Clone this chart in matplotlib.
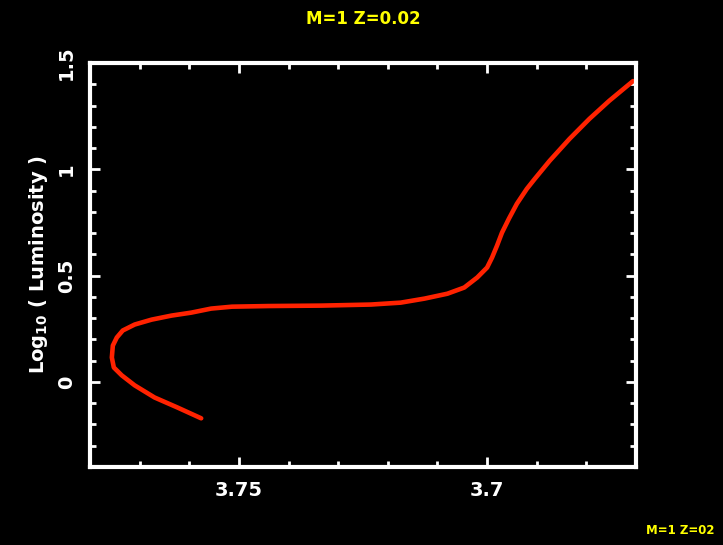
import matplotlib
matplotlib.use("Agg")
import matplotlib.pyplot as plt
from matplotlib.ticker import MultipleLocator, FixedLocator

# Evolutionary track of a 1 solar-mass star, Z = 0.02
log_teff = [3.7576, 3.7624, 3.7670, 3.7710, 3.7736, 3.7752, 3.7756, 3.7754,
            3.7746, 3.7734, 3.7710, 3.7676, 3.7636, 3.7596, 3.7556, 3.7514,
            3.7440, 3.7334, 3.7234, 3.7174, 3.7126, 3.7080, 3.7046, 3.7020,
            3.7000, 3.6990, 3.6980, 3.6970, 3.6956, 3.6940, 3.6920, 3.6904,
            3.6874, 3.6834, 3.6794, 3.6754, 3.6706]
log_lum = [-0.171, -0.120, -0.073, -0.016, 0.031, 0.068, 0.115, 0.171,
           0.209, 0.242, 0.270, 0.293, 0.312, 0.326, 0.345, 0.354,
           0.357, 0.359, 0.364, 0.373, 0.392, 0.415, 0.444, 0.491,
           0.538, 0.585, 0.641, 0.702, 0.768, 0.838, 0.908, 0.955,
           1.040, 1.143, 1.237, 1.322, 1.415]

x_ticks = [3.75, 3.7]
x_tick_labels = ["3.75", "3.7"]
y_ticks = [0, 0.5, 1, 1.5]
y_tick_labels = ["0", "0.5", "1", "1.5"]

title_text = "M=1 Z=0.02"
corner_text = "M=1 Z=02"
y_label = r"Log$_{\mathbf{10}}$ ( Luminosity )"

W, H = 723, 545
fig = plt.figure(figsize=(W / 100, H / 100), dpi=100, facecolor="black")
ax = fig.add_axes([90 / W, (H - 467) / H, 546 / W, 404 / H], facecolor="black")

ax.plot(log_teff, log_lum, color="#ff2200", lw=3.3, solid_capstyle="round",
        solid_joinstyle="round")

ax.set_xlim(3.78, 3.67)
ax.set_ylim(-0.4, 1.5)

for s in ax.spines.values():
    s.set_color("white")
    s.set_linewidth(3)

ax.xaxis.set_major_locator(FixedLocator(x_ticks))
ax.set_xticklabels(x_tick_labels)
ax.xaxis.set_minor_locator(MultipleLocator(0.01))
ax.yaxis.set_major_locator(FixedLocator(y_ticks))
ax.set_yticklabels(y_tick_labels, rotation=90, va="center")
ax.yaxis.set_minor_locator(MultipleLocator(0.1))

ax.tick_params(which="both", direction="in", colors="white", top=True,
               right=True, width=2)
ax.tick_params(which="major", length=7, pad=10, labelsize=14)
ax.tick_params(which="minor", length=4)
for lab in ax.get_xticklabels() + ax.get_yticklabels():
    lab.set_fontweight("bold")
    lab.set_color("white")

ax.set_ylabel(y_label, color="white", fontsize=14, fontweight="bold", labelpad=5)

fig.text(363 / W, 1 - 19 / H, title_text, color="#ffff00", fontsize=12,
         fontweight="bold", ha="center", va="center")
fig.text(680 / W, 1 - 530 / H, corner_text, color="#ffff00", fontsize=8.5,
         fontweight="bold", ha="center", va="center")

fig.savefig("out.png", dpi=100, facecolor="black")
